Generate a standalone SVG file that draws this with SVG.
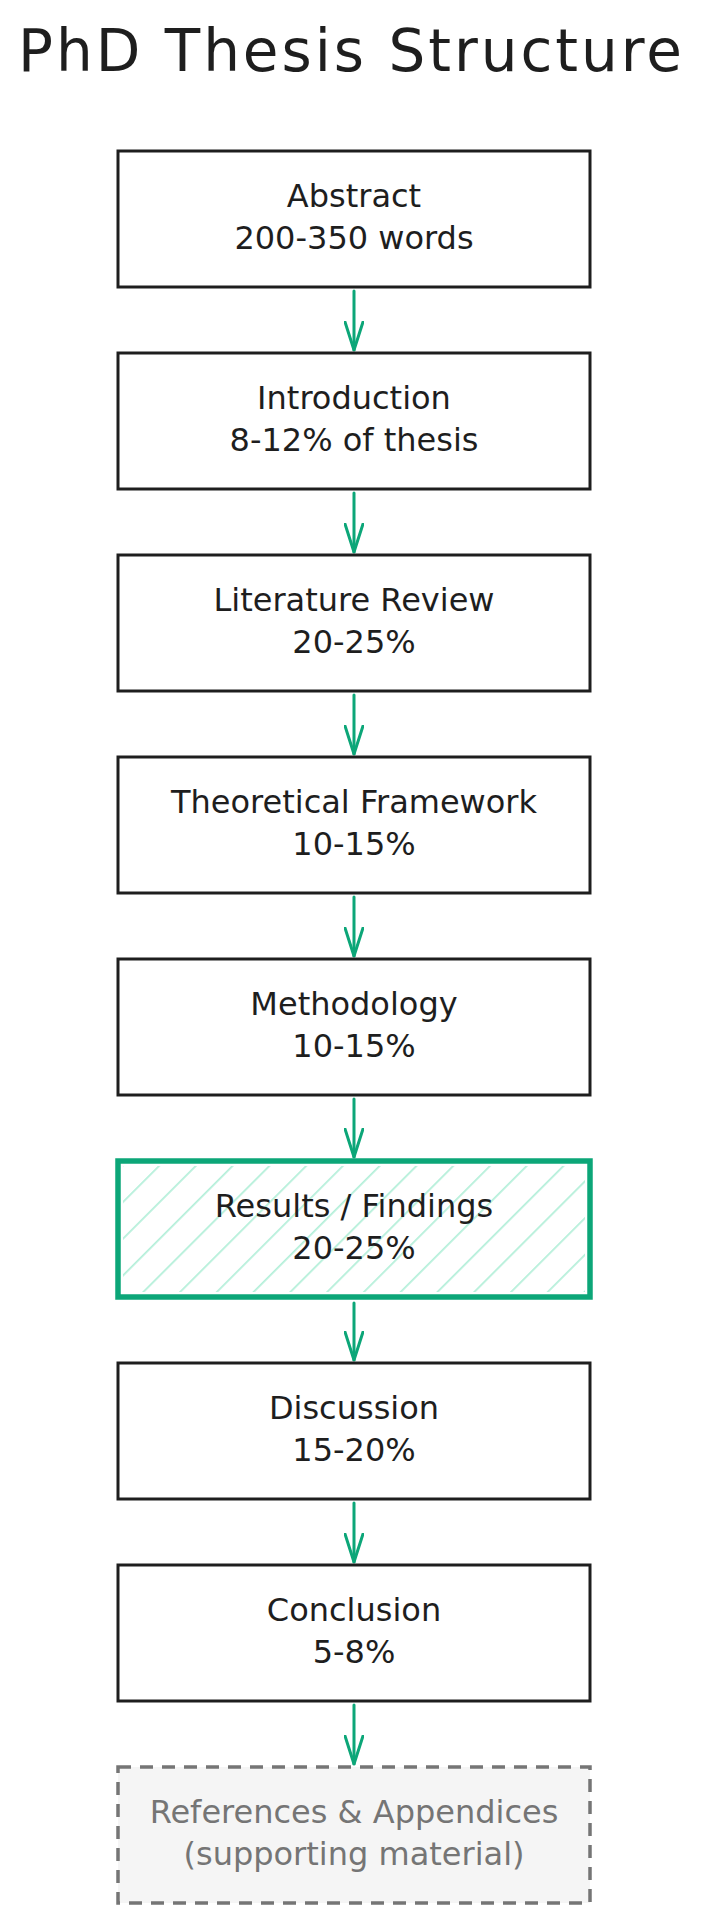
<svg xmlns="http://www.w3.org/2000/svg" width="707" height="1920" viewBox="0 0 707 1920">
<style>
  .box { fill: #ffffff; stroke: #1e1e1e; stroke-width: 3; }
  .hl { fill: none; stroke: #0ca678; stroke-width: 5.5; }
  .ghost { fill: #f5f5f5; stroke: #757575; stroke-width: 3.5; stroke-dasharray: 13 9; }
  .lbl { font-family: "DejaVu Sans", "Liberation Sans", sans-serif; font-size: 32px; fill: #1e1e1e; text-anchor: middle; }
  .glbl { fill: #757575; }
  .title { font-family: "DejaVu Sans", "Liberation Sans", sans-serif; font-size: 58px; fill: #1e1e1e; text-anchor: middle; }
  .conn { fill: none; stroke: #0ca678; stroke-width: 3; stroke-linecap: round; }
</style>
<defs>
  <marker id="arrow" viewBox="0 0 30 20" refX="29" refY="10" markerWidth="30" markerHeight="20" markerUnits="userSpaceOnUse" orient="auto">
    <path d="M1,1 L29,10 L1,19" fill="none" stroke="#0ca678" stroke-width="3" stroke-linecap="round" stroke-linejoin="round"/>
  </marker>
  <pattern id="hatch" patternUnits="userSpaceOnUse" width="26" height="26" patternTransform="rotate(45)">
    <line x1="0" y1="-2" x2="0" y2="28" stroke="#b3efd9" stroke-width="3.5"/>
  </pattern>
</defs>
<rect width="707" height="1920" fill="#ffffff"/>
<text id="title" class="title" x="350" y="71" textLength="664" lengthAdjust="spacing">PhD Thesis Structure</text>

<g id="connectors">
  <line class="conn" x1="354" y1="291" x2="354" y2="350" marker-end="url(#arrow)"/>
  <line class="conn" x1="354" y1="493" x2="354" y2="552" marker-end="url(#arrow)"/>
  <line class="conn" x1="354" y1="695" x2="354" y2="754" marker-end="url(#arrow)"/>
  <line class="conn" x1="354" y1="897" x2="354" y2="956" marker-end="url(#arrow)"/>
  <line class="conn" x1="354" y1="1099" x2="354" y2="1157" marker-end="url(#arrow)"/>
  <line class="conn" x1="354" y1="1303" x2="354" y2="1360" marker-end="url(#arrow)"/>
  <line class="conn" x1="354" y1="1503" x2="354" y2="1562" marker-end="url(#arrow)"/>
  <line class="conn" x1="354" y1="1705" x2="354" y2="1764" marker-end="url(#arrow)"/>
</g>

<g id="abstract">
  <rect class="box" x="118" y="151" width="472" height="136"/>
  <text class="lbl" x="354" y="207">Abstract</text>
  <text class="lbl" x="354" y="249">200-350 words</text>
</g>
<g id="introduction">
  <rect class="box" x="118" y="353" width="472" height="136"/>
  <text class="lbl" x="354" y="409">Introduction</text>
  <text class="lbl" x="354" y="451">8-12% of thesis</text>
</g>
<g id="literature-review">
  <rect class="box" x="118" y="555" width="472" height="136"/>
  <text class="lbl" x="354" y="611">Literature Review</text>
  <text class="lbl" x="354" y="653">20-25%</text>
</g>
<g id="theoretical-framework">
  <rect class="box" x="118" y="757" width="472" height="136"/>
  <text class="lbl" x="354" y="813">Theoretical Framework</text>
  <text class="lbl" x="354" y="855">10-15%</text>
</g>
<g id="methodology">
  <rect class="box" x="118" y="959" width="472" height="136"/>
  <text class="lbl" x="354" y="1015">Methodology</text>
  <text class="lbl" x="354" y="1057">10-15%</text>
</g>
<g id="results">
  <rect x="120" y="1163" width="468" height="132" fill="#ffffff"/>
  <rect x="123" y="1166" width="462" height="126" fill="url(#hatch)"/>
  <rect class="hl" x="118" y="1161" width="472" height="136"/>
  <text class="lbl" x="354" y="1217">Results / Findings</text>
  <text class="lbl" x="354" y="1259">20-25%</text>
</g>
<g id="discussion">
  <rect class="box" x="118" y="1363" width="472" height="136"/>
  <text class="lbl" x="354" y="1419">Discussion</text>
  <text class="lbl" x="354" y="1461">15-20%</text>
</g>
<g id="conclusion">
  <rect class="box" x="118" y="1565" width="472" height="136"/>
  <text class="lbl" x="354" y="1621">Conclusion</text>
  <text class="lbl" x="354" y="1663">5-8%</text>
</g>
<g id="references">
  <rect class="ghost" x="118" y="1767" width="472" height="136"/>
  <text class="lbl glbl" x="354" y="1823">References &amp; Appendices</text>
  <text class="lbl glbl" x="354" y="1865">(supporting material)</text>
</g>
</svg>
